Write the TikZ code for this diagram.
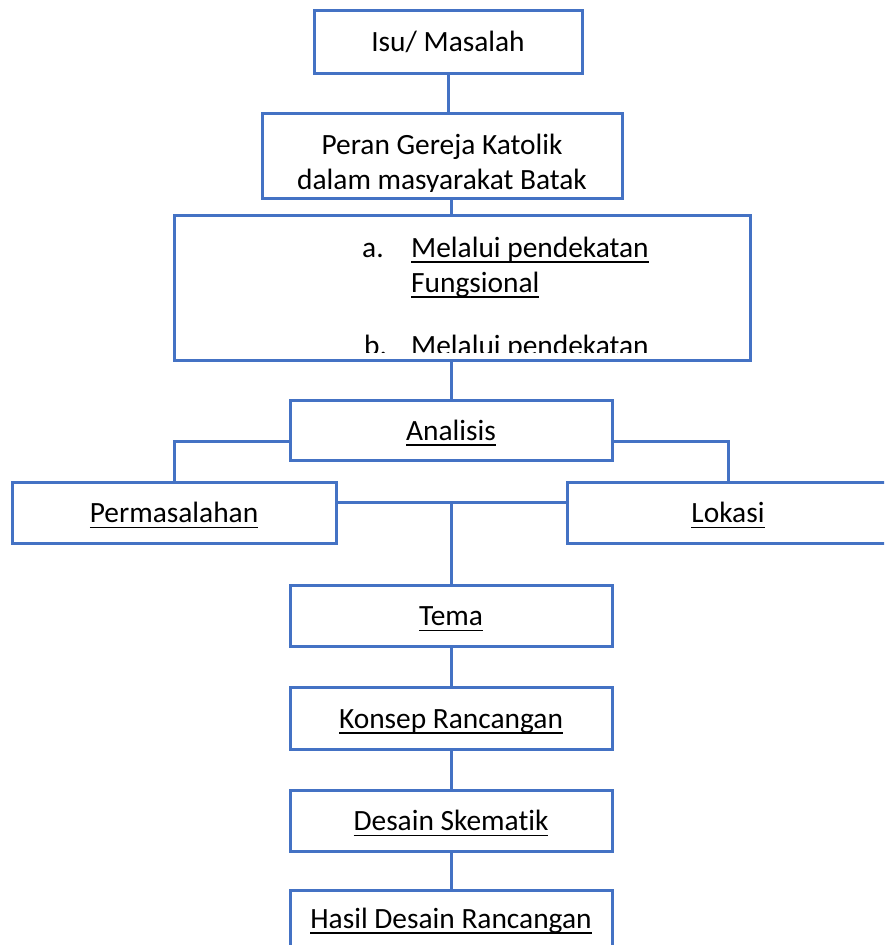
\documentclass[tikz,border=0pt]{standalone}
\usepackage{fontspec}
\setmainfont[Ligatures={NoCommon}]{Carlito}
\newcommand{\uln}[1]{\setbox0\hbox{#1}\rlap{\rule[-5.6pt]{\wd0}{1.6pt}}\box0}
\definecolor{lineblue}{HTML}{4472C4}
\begin{document}
\begin{tikzpicture}[x=1pt,y=-1pt,
  box/.style={draw=lineblue, line width=3pt, fill=white, inner sep=0pt},
  conn/.style={draw=lineblue, line width=3pt},
  txt/.style={anchor=base, inner sep=0pt, font=\fontsize{29.4}{35}\selectfont}]
\useasboundingbox (0,0) rectangle (884,945);
\clip (0,0) rectangle (884,945);
% boxes
\node[box, minimum width=268pt, minimum height=63pt] (b1) at (448,41.5) {};
\node[box, minimum width=360pt, minimum height=85pt] (b2) at (442,155.5) {};
\node[box, minimum width=576pt, minimum height=145pt] (b3) at (462,287.5) {};
\node[box, minimum width=322pt, minimum height=60pt] (an) at (451,430) {};
\node[box, minimum width=324pt, minimum height=61pt] (perm) at (174,512.5) {};
\node[box, minimum width=322pt, minimum height=61pt] (lok) at (728,512.5) {};
\node[box, minimum width=322pt, minimum height=61pt] (tema) at (451,615.5) {};
\node[box, minimum width=322pt, minimum height=62pt] (konsep) at (451,718) {};
\node[box, minimum width=322pt, minimum height=61pt] (desain) at (451,820.5) {};
\node[box, minimum width=322pt, minimum height=61pt] (hasil) at (451,920.5) {};
% connectors
\draw[conn] (b1.south) -- (b1.south |- b2.north);
\draw[conn] (an.north |- b2.south) -- (an.north |- b3.north);
\draw[conn] (an.north |- b3.south) -- (an.north);
\draw[conn] ([yshift=-11pt]an.west) -| (perm.north);
\draw[conn] ([yshift=-11pt]an.east) -| (lok.north);
\path ([yshift=10pt]perm.east) coordinate (pl);
\draw[conn] (pl) -- (pl -| lok.west);
\draw[conn] (pl -| tema.north) -- (tema.north);
\draw[conn] (tema.south) -- (konsep.north);
\draw[conn] (konsep.south) -- (desain.north);
\draw[conn] (desain.south) -- (hasil.north);
% texts
\node[txt] (t1) at ([yshift=-10pt]b1.center) {Isu/ Masalah};
\begin{scope}
\clip (264,115) rectangle (620,191);
\node[txt] (t2a) at (442,154) {Peran Gereja Katolik};
\node[txt] (t2b) at (442,189.5) {dalam masyarakat Batak};
\end{scope}
\begin{scope}
\clip (176,217) rectangle (748,352);
\node[txt, anchor=base west] (t3a) at (362,257) {a.};
\node[txt, anchor=base west] (t3b) at (411,257) {\uln{Melalui pendekatan}};
\node[txt, anchor=base west] (t3c) at (411,292) {\uln{Fungsional}};
\node[txt, anchor=base west] (t3d) at (364,355) {b.};
\node[txt, anchor=base west] (t3e) at (411,355) {Melalui pendekatan};
\end{scope}
\node[txt] (t4) at ([yshift=-10pt]an.center) {\uln{Analisis}};
\node[txt] (t5) at ([yshift=-10pt]perm.center) {\uln{Permasalahan}};
\node[txt] (t6) at ([yshift=-10pt]lok.center) {\uln{Lokasi}};
\node[txt] (t7) at ([yshift=-10pt]tema.center) {\uln{Tema}};
\node[txt] (t8) at ([yshift=-10pt]konsep.center) {\uln{Konsep Rancangan}};
\node[txt] (t9) at ([yshift=-10pt]desain.center) {\uln{Desain Skematik}};
\node[txt] (t10) at (451,928) {\uln{Hasil Desain Rancangan}};
\end{tikzpicture}
\end{document}
